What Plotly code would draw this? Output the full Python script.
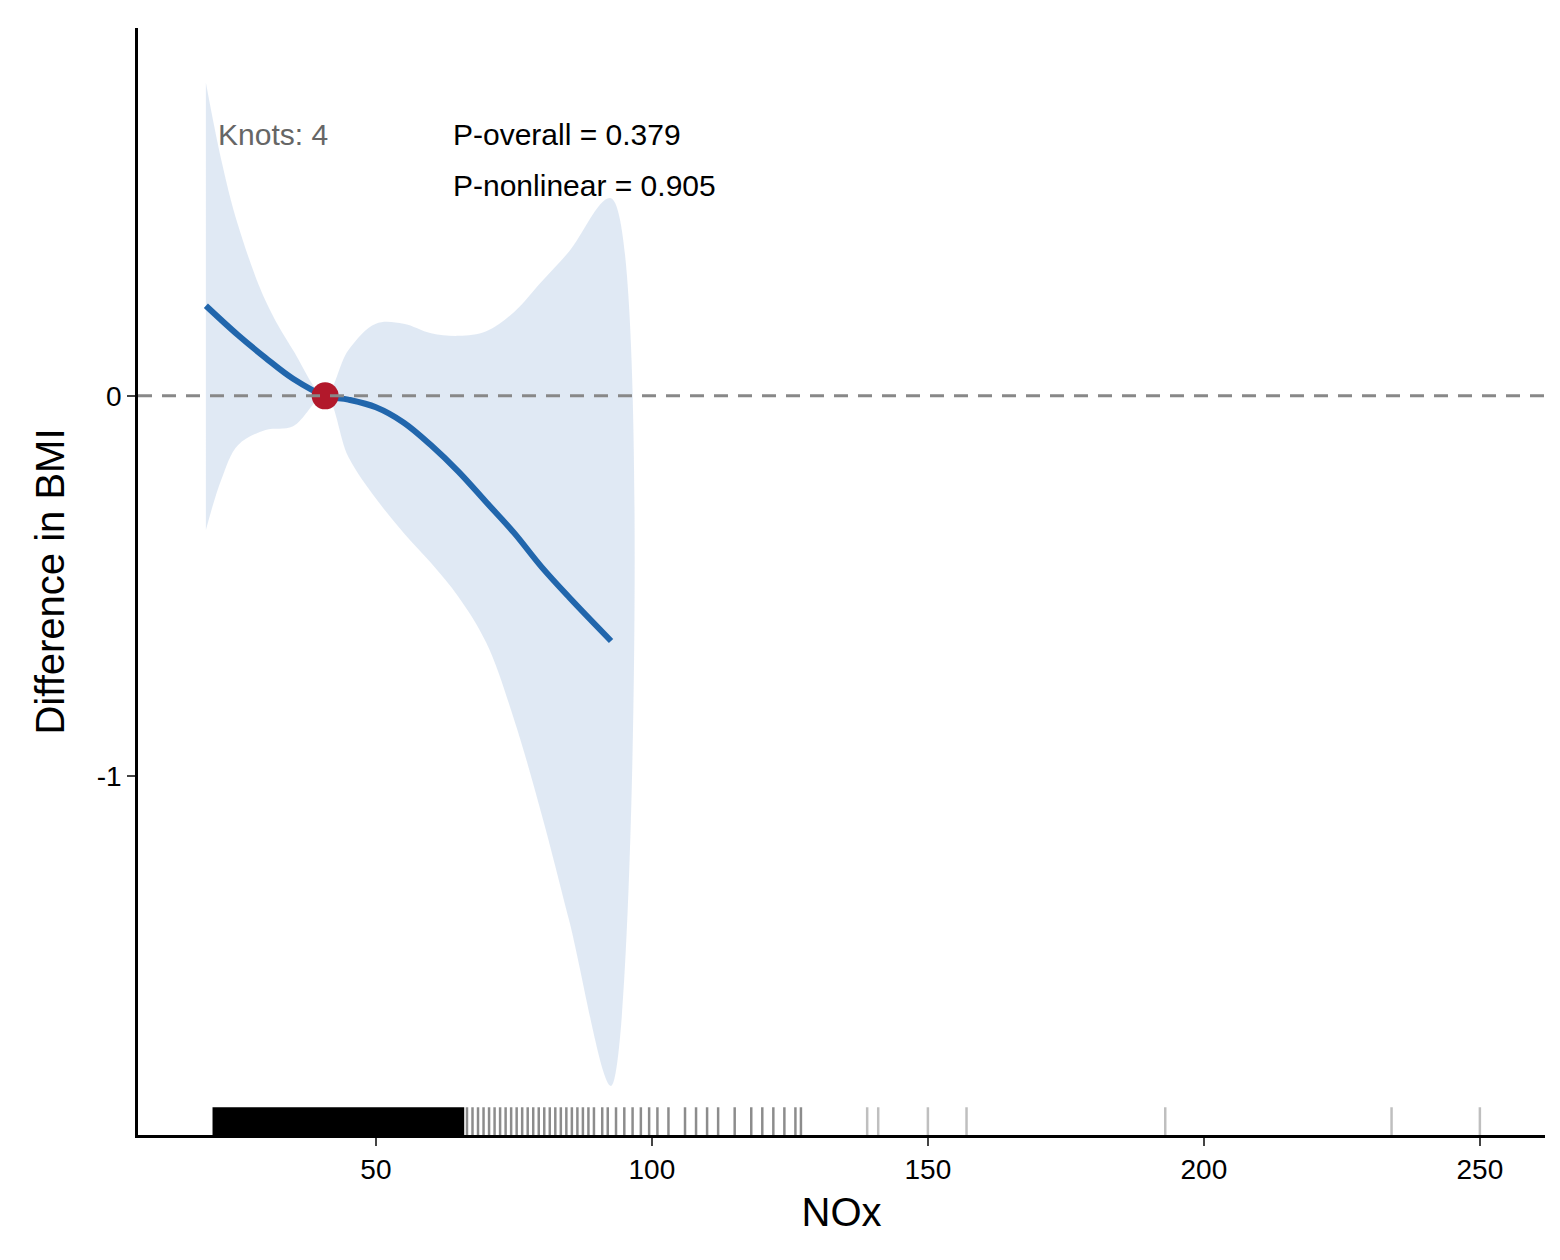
import plotly.graph_objects as go

# spline estimate
fit_x = [19.2, 25, 30, 35, 40.8, 45, 50, 55, 60, 65, 70, 75, 80, 85, 92.6]
fit_y = [0.237, 0.16, 0.10, 0.045, 0.0, -0.01, -0.03, -0.07, -0.13, -0.2, -0.28, -0.36, -0.45, -0.53, -0.645]
# confidence band
band_x = [19.2, 22, 25, 30, 35, 40.8, 45, 50, 55, 60, 65, 70, 75, 80, 85, 92.6]
band_hi = [0.824, 0.62, 0.45, 0.25, 0.12, 0.0, 0.12, 0.19, 0.19, 0.165, 0.158, 0.17, 0.22, 0.30, 0.38, 0.52]
band_lo = [-0.353, -0.22, -0.13, -0.09, -0.08, 0.0, -0.16, -0.27, -0.36, -0.44, -0.53, -0.65, -0.85, -1.1, -1.38, -1.816]
ref_x, ref_y = 40.8, 0.0
# rug: dense block plus individual sparse observations
rug_dense = [20.4, 66.0]
rug_mid = [66.5, 67.5, 68.5, 69.5, 70.5, 71.5, 72.5, 73.5, 74.5, 75.5, 76.5, 77.5, 78.5,
           79.5, 80.5, 81.5, 82.5, 83.5, 84.5, 85.5, 86.5, 87.5, 88.5, 89.5, 91, 92, 93.5,
           95, 96.5, 98, 99.5, 101, 103, 106, 108, 110, 112, 115, 118, 120, 122, 124, 126, 127]
rug_sparse = [139, 141, 150, 157, 193, 234, 250]
rug_lo, rug_hi = -1.945, -1.872

fig = go.Figure()
fig.add_trace(go.Scatter(x=band_x + band_x[::-1], y=band_hi + band_lo[::-1], fill="toself",
                         fillcolor="rgba(198,215,235,0.55)", line=dict(width=0, shape="spline"),
                         mode="lines"))
fig.add_shape(type="line", xref="paper", x0=0, x1=1, y0=0, y1=0,
              line=dict(color="#888888", width=3, dash="14px,10px"))
fig.add_trace(go.Scatter(x=fit_x, y=fit_y, mode="lines", line=dict(color="#2166ac", width=6, shape="spline")))
fig.add_trace(go.Scatter(x=[ref_x], y=[ref_y], mode="markers", marker=dict(color="#b2182b", size=27)))

fig.add_trace(go.Scatter(x=[rug_dense[0], rug_dense[1], rug_dense[1], rug_dense[0]],
                         y=[rug_lo, rug_lo, rug_hi, rug_hi], fill="toself", fillcolor="black",
                         line=dict(width=0), mode="lines"))
for vals, col in [(rug_mid, "rgba(0,0,0,0.45)"), (rug_sparse, "rgba(0,0,0,0.25)")]:
    xs, ys = [], []
    for v in vals:
        xs += [v, v, None]
        ys += [rug_lo, rug_hi, None]
    fig.add_trace(go.Scatter(x=xs, y=ys, mode="lines", line=dict(color=col, width=2.5)))

fig.add_annotation(x=21, y=0.687, text="Knots: 4", showarrow=False, xanchor="left",
                   font=dict(size=30, color="#666666"))
fig.add_annotation(x=63.6, y=0.687, text="P-overall = 0.379", showarrow=False, xanchor="left",
                   font=dict(size=30, color="black"))
fig.add_annotation(x=63.6, y=0.553, text="P-nonlinear = 0.905", showarrow=False, xanchor="left",
                   font=dict(size=30, color="black"))

fig.update_layout(
    width=1560, height=1260, showlegend=False,
    plot_bgcolor="white", paper_bgcolor="white",
    margin=dict(l=130, r=23, t=20, b=133, autoexpand=False),
    font=dict(family="Liberation Sans, Arial, sans-serif", color="black"),
    xaxis=dict(range=[6.9, 261.8], tickvals=[50, 100, 150, 200, 250], showgrid=False, zeroline=False,
               showline=True, linecolor="black", linewidth=2.5, ticks="outside", ticklen=8,
               tickwidth=2, tickfont=dict(size=28), automargin=False,
               title=dict(text="NOx", font=dict(size=40), standoff=14)),
    yaxis=dict(range=[-1.945, 0.968], tickvals=[0, -1], ticktext=["0", "-1"], showgrid=False,
               zeroline=False, showline=True, linecolor="black", linewidth=2.5, ticks="outside",
               ticklen=8, tickwidth=2, tickfont=dict(size=28), automargin=False,
               title=dict(text="Difference in BMI", font=dict(size=40), standoff=20)),
)
fig.write_html("out.html")
